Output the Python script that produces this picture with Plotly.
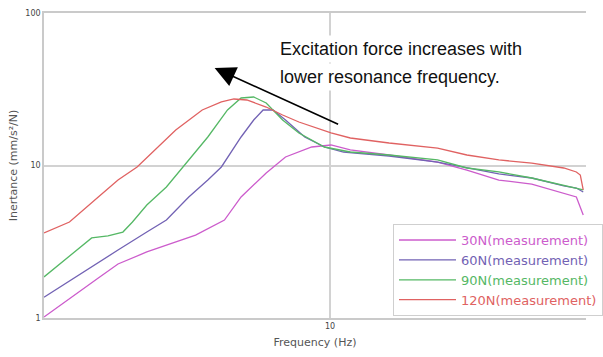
import math
import plotly.graph_objects as go

# Measured inertance curves for four excitation force levels (log-log)
freq_30n = [4.00, 4.34, 4.76, 5.07, 5.56, 6.50, 7.13, 7.52, 8.15, 8.67, 9.43, 10.03,
            10.67, 12.08, 14.11, 15.50, 17.17, 19.08, 21.14, 22.01, 22.50]
inert_30n = [1.015, 1.33, 1.83, 2.26, 2.71, 3.50, 4.39, 6.22, 8.93, 11.37, 13.22, 13.63,
             12.64, 11.72, 10.54, 9.34, 8.03, 7.56, 6.60, 6.22, 4.74]

freq_60n = [4.00, 4.34, 4.76, 5.07, 5.56, 5.92, 6.36, 6.76, 7.06, 7.52, 7.83, 8.07,
            8.33, 8.67, 9.22, 9.82, 10.44, 12.08, 14.11, 15.50, 17.17, 19.08, 21.14,
            22.01, 22.50]
inert_60n = [1.37, 1.75, 2.33, 2.79, 3.66, 4.39, 6.22, 8.03, 9.78, 15.38, 19.88, 23.12,
             23.12, 19.88, 15.38, 13.22, 12.26, 11.54, 10.54, 9.63, 8.80, 8.28, 7.34,
             7.12, 6.70]

freq_90n = [4.00, 4.34, 4.66, 4.91, 5.15, 5.31, 5.56, 5.92, 6.24, 6.50, 6.76, 7.20,
            7.52, 7.83, 8.15, 8.59, 9.05, 9.82, 10.67, 12.08, 14.11, 15.50, 17.17,
            19.08, 21.14, 22.01, 22.50]
inert_90n = [1.86, 2.55, 3.35, 3.45, 3.66, 4.26, 5.51, 7.23, 9.78, 12.26, 15.38, 23.12,
             27.71, 28.13, 25.70, 19.88, 16.34, 13.22, 12.26, 11.72, 10.87, 9.63, 9.07,
             8.28, 7.45, 7.12, 6.91]

freq_120n = [4.00, 4.34, 4.76, 5.07, 5.39, 5.74, 6.10, 6.64, 7.06, 7.35, 7.66, 8.15,
             8.59, 9.05, 10.03, 10.67, 12.08, 14.11, 15.50, 17.17, 19.08, 21.14, 22.01,
             22.29, 22.50]
inert_120n = [3.61, 4.26, 6.22, 8.03, 9.78, 13.02, 17.09, 23.12, 26.09, 27.30, 26.89,
              24.18, 21.44, 19.29, 16.34, 15.15, 14.05, 13.02, 11.72, 10.87, 10.38,
              9.63, 9.07, 8.66, 6.91]

series = [
    ("30N(measurement)", freq_30n, inert_30n, "#cc5ccc"),
    ("60N(measurement)", freq_60n, inert_60n, "#7262b4"),
    ("90N(measurement)", freq_90n, inert_90n, "#55b865"),
    ("120N(measurement)", freq_120n, inert_120n, "#e06262"),
]

x_ticks = [10]
y_ticks = [1, 10, 100]

fig = go.Figure()
for label, f, v, color in series:
    fig.add_trace(go.Scatter(
        x=f, y=v, mode="lines",
        line=dict(color=color, width=1.3),
        name=f'<span style="color:{color}">{label}</span>',
    ))

small = dict(family="DejaVu Sans", size=8, color="#444")
title_font = dict(family="DejaVu Sans", size=11, color="#555")

fig.update_layout(
    width=603, height=357,
    margin=dict(l=44, r=0, t=13, b=39),
    paper_bgcolor="white", plot_bgcolor="white",
    showlegend=True,
    legend=dict(
        x=0.644, y=0.308, xanchor="left", yanchor="top",
        bgcolor="white", bordercolor="#cfcfcf", borderwidth=1,
        font=dict(family="DejaVu Sans", size=13),
        itemwidth=57, traceorder="normal",
    ),
    xaxis=dict(
        type="log", range=[math.log10(4), math.log10(22.7)],
        tickvals=x_ticks, ticktext=[str(t) for t in x_ticks],
        ticks="", tickfont=small,
        showgrid=True, gridcolor="#d2d2d2", gridwidth=1.5,
        showline=True, linecolor="#cacaca", linewidth=1.5, mirror=True,
        zeroline=False, automargin=False,
        title=dict(text="Frequency (Hz)", font=title_font, standoff=8),
    ),
    yaxis=dict(
        type="log", range=[0, 2],
        tickvals=y_ticks, ticktext=[str(t) for t in y_ticks],
        ticks="", tickfont=small,
        showgrid=True, gridcolor="#d2d2d2", gridwidth=1.5,
        showline=True, linecolor="#cacaca", linewidth=1.5,
        zeroline=False, automargin=False,
        title=dict(text="Inertance (mm/s²/N)", font=title_font, standoff=6),
    ),
)

# Explanatory note with a white backing so the grid line stays behind the text
note_font = dict(family="Liberation Sans, Arial", size=18, color="#111")
fig.add_annotation(xref="paper", yref="paper", x=0.4276, y=0.882,
                   xanchor="left", yanchor="middle", showarrow=False,
                   bgcolor="white", borderpad=3,
                   text="Excitation force increases with", font=note_font)
fig.add_annotation(xref="paper", yref="paper", x=0.4276, y=0.790,
                   xanchor="left", yanchor="middle", showarrow=False,
                   bgcolor="white", borderpad=3,
                   text="lower resonance frequency.", font=note_font)
fig.add_annotation(xref="paper", yref="paper", x=0.3148, y=0.8197,
                   text="", showarrow=True, ax=125, ay=57,
                   arrowhead=2, arrowsize=2.6, arrowwidth=1.6, arrowcolor="#000")

fig.write_html("out.html")
